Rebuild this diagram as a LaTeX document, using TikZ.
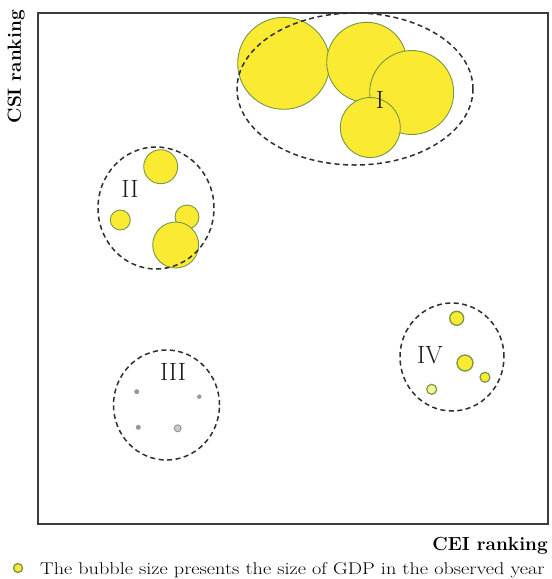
\documentclass[tikz,border=0pt]{standalone}
\usetikzlibrary{shapes.geometric}
\definecolor{bubfill}{RGB}{250,234,50}
\definecolor{bubedge}{RGB}{120,150,70}
\definecolor{dashcol}{RGB}{45,45,50}
\definecolor{framecol}{RGB}{60,60,60}
\definecolor{dotcol}{RGB}{150,150,150}
\tikzset{
  bubble/.style={circle, draw=bubedge, fill=bubfill, line width=0.9pt, inner sep=0pt},
  dotb/.style={circle, fill=dotcol, inner sep=0pt, minimum size=5pt},
  group/.style={ellipse, draw=dashcol, line width=1.5pt, dash pattern=on 5pt off 3.5pt, inner sep=0pt},
  roman/.style={font=\fontsize{25}{25}\selectfont, inner sep=0pt, text=black!90},
  axislab/.style={font=\fontsize{19}{19}\selectfont\bfseries, inner sep=0pt}
}
\begin{document}
\begin{tikzpicture}[x=1pt,y=-1pt]
\useasboundingbox (0,0) rectangle (552,579);
\node[draw=framecol, line width=1.3pt, minimum width=510pt, minimum height=511pt, inner sep=0pt] (frame) at (293,268.5) {};
% group I
\node[bubble, minimum size=92pt] (i1) at (283.7,63.3) {};
\node[bubble, minimum size=80pt] (i2) at (366.7,62.3) {};
\node[bubble, minimum size=84pt] (i3) at (411.7,92.5) {};
\node[bubble, minimum size=60pt] (i4) at (370.3,127.5) {};
\node[group, minimum width=236pt, minimum height=152pt] (gI) at (355,89) {};
\node[roman] (lI) at (380,100) {I};
% group II
\node[bubble, minimum size=34pt] (ii1) at (160.7,166.7) {};
\node[bubble, minimum size=20pt] (ii2) at (120.3,220) {};
\node[bubble, minimum size=24pt] (ii3) at (187,217) {};
\node[bubble, minimum size=46pt] (ii4) at (175.7,245) {};
\node[group, minimum width=116pt, minimum height=122pt] (gII) at (156,208) {};
\node[roman] (lII) at (130,189) {II};
% group III
\node[dotb] (iii1) at (136.7,391.7) {};
\node[dotb, minimum size=4.5pt] (iii2) at (199.3,396.7) {};
\node[dotb] (iii3) at (138.3,427.3) {};
\node[circle, draw=dotcol, fill=dotcol!50, line width=1pt, inner sep=0pt, minimum size=7pt] (iii4) at (177.7,428.3) {};
\node[group, minimum width=106pt, minimum height=110pt] (gIII) at (166.5,405) {};
\node[roman] (lIII) at (173,372) {III};
% group IV
\node[bubble, minimum size=14pt, line width=1.3pt] (iv1) at (456.7,318.3) {};
\node[bubble, minimum size=16pt, line width=1.3pt] (iv2) at (465,363) {};
\node[bubble, minimum size=10pt, line width=1.2pt] (iv3) at (485,377.3) {};
\node[bubble, minimum size=10pt, line width=1.2pt, fill=bubfill!50] (iv4) at (431.7,389.3) {};
\node[group, minimum width=104pt, minimum height=108pt] (gIV) at (452,357) {};
\node[roman] (lIV) at (430,355) {IV};
% axis labels
\node[axislab, rotate=90, anchor=south east] (ylab) at (25,10) {CSI ranking};
\node[axislab, anchor=base east] (xlab) at (548,550) {CEI ranking};
% legend
\node[bubble, minimum size=9pt, line width=1.3pt] (legb) at (18,568) {};
\node[font=\fontsize{17}{17}\selectfont, anchor=base west, inner sep=0pt, xscale=1.19] (legt) at (40,574) {The bubble size presents the size of GDP in the observed year};
\end{tikzpicture}
\end{document}
